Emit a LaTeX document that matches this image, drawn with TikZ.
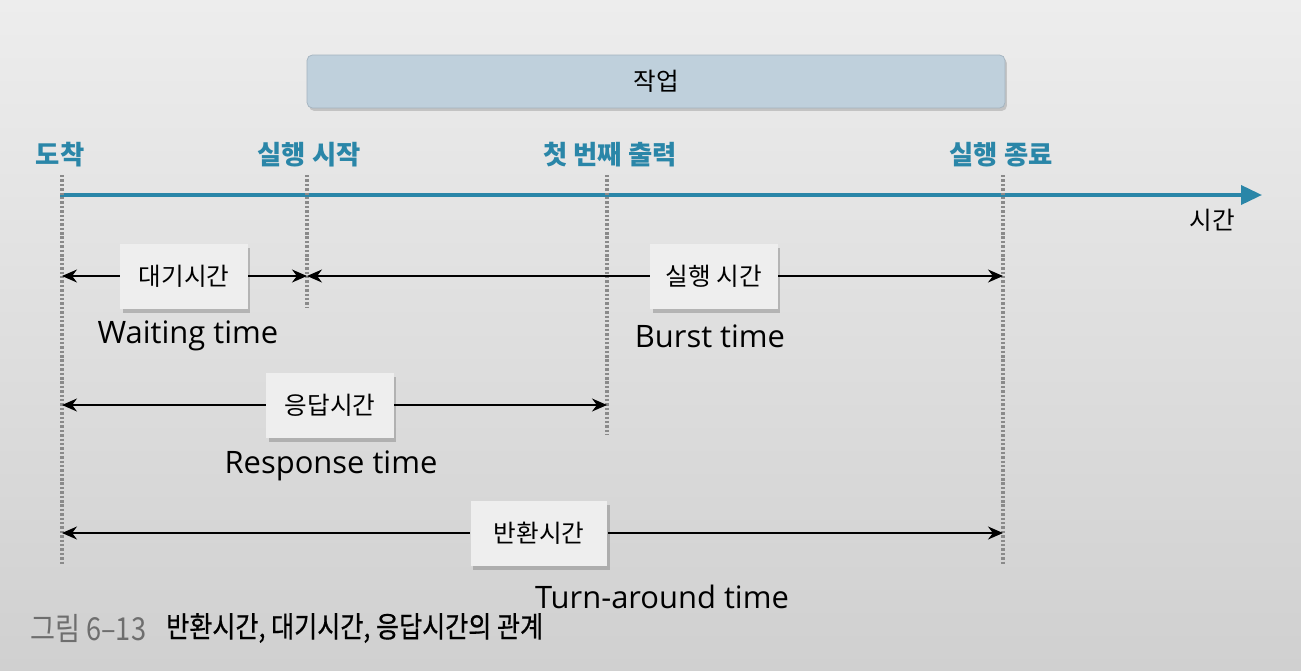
\documentclass[tikz,border=0pt]{standalone}
\usepackage{fontspec}
\usepackage{tikz}
\setmainfont{Open Sans}
\newfontfamily\krfont{Noto Sans CJK KR}
\newfontfamily\krcond[FakeStretch=0.86]{Noto Sans CJK KR}
\newfontfamily\krcondb[FakeStretch=0.86, FakeBold=0.6]{Noto Sans CJK KR}
\usetikzlibrary{
  arrows.meta,
  shadows,
  calc
}
\definecolor{tlTeal}{HTML}{2A86A8}
\definecolor{tlBar}{HTML}{BFD0DC}
\definecolor{tlBarEdge}{HTML}{A3B3BF}
\definecolor{tlGuide}{HTML}{8A8A8A}
\definecolor{tlBox}{HTML}{EEEEEE}
\definecolor{tlBgTop}{HTML}{EDEDED}
\definecolor{tlBgBot}{HTML}{D0D0D0}
\definecolor{tlCap}{HTML}{6E6E6E}
\tikzset{
  jobbar/.style={
    draw=tlBarEdge, fill=tlBar, rounded corners=3pt, minimum width=13.96cm,
    minimum height=1.06cm, font=\krfont\fontsize{14}{16}\selectfont,
    drop shadow={shadow xshift=0.4mm, shadow yshift=-0.6mm, opacity=0.35, fill=black!50}
  },
  event/.style={text=tlTeal, font=\krfont\bfseries\fontsize{15}{18}\selectfont},
  spanbox/.style={
    fill=tlBox, minimum width=2.56cm, minimum height=1.3cm,
    font=\krfont\fontsize{14}{16}\selectfont,
    drop shadow={shadow xshift=0.5mm, shadow yshift=-0.9mm, opacity=0.4, fill=black!55}
  },
  engl/.style={font=\fontsize{17.6}{21}\selectfont},
  timeline/.style={line width=2.1pt, tlTeal, -{Triangle[length=4.2mm, width=3.8mm]}},
  guide/.style={tlGuide, line width=2pt, dash pattern=on 1.4pt off 1.1pt},
  dur/.style={line width=0.75pt, black},
  axislbl/.style={font=\krfont\fontsize{14}{16}\selectfont},
  capnum/.style={text=tlCap, font=\krcond\fontsize{18}{20}\selectfont, anchor=west},
  captext/.style={font=\krcondb\fontsize{16.6}{18}\selectfont, anchor=west}
}
\begin{document}
\begin{tikzpicture}[x=0.02cm, y=-0.02cm, >={Stealth[length=3mm, width=2.6mm]}]
  \shade[top color=tlBgTop, bottom color=tlBgBot] (0,0) rectangle (1301,670);
  \useasboundingbox (0,0) rectangle (1301,670);

  \node[jobbar] (job) at (656,81.5) {작업};

  \node[event] (eArr) at (60,155) {도착};
  \node[event] (eBeg) at (309,155) {실행 시작};
  \node[event] (eOut) at (610,155) {첫 번째 출력};
  \node[event] (eFin) at (1001,155) {실행 종료};

  \coordinate (tl0) at (60,195);
  \coordinate (tlEnd) at (1262,195);
  \draw[timeline] (tl0) -- (tlEnd);
  \node[axislbl] (timeLbl) at (1212,220) {시간};

  \coordinate (arr) at (62,175);
  \coordinate (beg) at (307,175);
  \coordinate (out) at (607,175);
  \coordinate (fin) at (1003,175);
  \draw[guide] (arr) -- ++(0,390);
  \draw[guide] (beg) -- ++(0,133);
  \draw[guide] (out) -- ++(0,260);
  \draw[guide] (fin) -- ++(0,390);

  \node[spanbox] (wait) at (184,276) {대기시간};
  \node[spanbox] (burst) at (714,276) {실행 시간};
  \node[spanbox] (resp) at (330,405) {응답시간};
  \node[spanbox, minimum width=2.74cm] (turn) at (539,533) {반환시간};

  \draw[dur,<-] (arr |- wait) -- (wait.west);
  \draw[dur,->] (wait.east) -- (beg |- wait);
  \draw[dur,<-] (beg |- burst) -- (burst.west);
  \draw[dur,->] (burst.east) -- (fin |- burst);
  \draw[dur,<-] (arr |- resp) -- (resp.west);
  \draw[dur,->] (resp.east) -- (out |- resp);
  \draw[dur,<-] (arr |- turn) -- (turn.west);
  \draw[dur,->] (turn.east) -- (fin |- turn);

  \node[engl] (waitEn) at (188,336) {Waiting time};
  \node[engl] (burstEn) at (710,336) {Burst time};
  \node[engl] (respEn) at (331,466) {Response time};
  \node[engl] (turnEn) at (662,597) {Turn-around time};

  \node[capnum] (capNum) at (24,628) {그림 6–13};
  \node[captext] (capText) at (160,628) {반환시간, 대기시간, 응답시간의 관계};
\end{tikzpicture}
\end{document}
